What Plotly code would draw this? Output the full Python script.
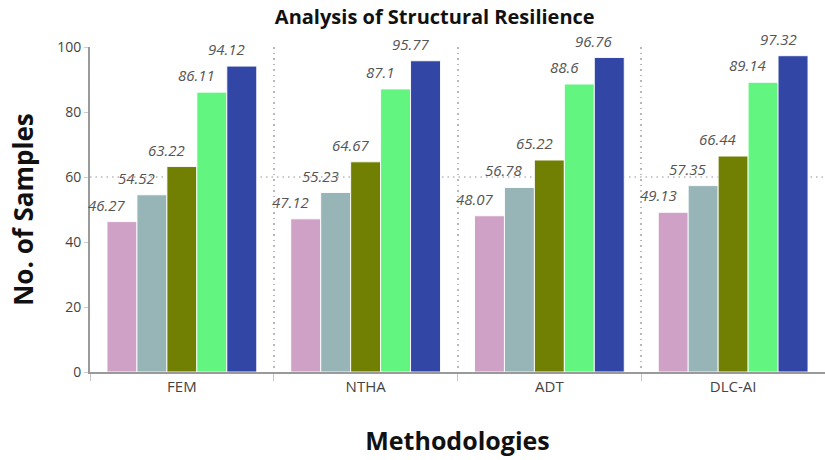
import plotly.graph_objects as go

# Methodologies compared and the five sample series per methodology
categories = ["FEM", "NTHA", "ADT", "DLC-AI"]
series_a = [46.27, 47.12, 48.07, 49.13]
series_b = [54.52, 55.23, 56.78, 57.35]
series_c = [63.22, 64.67, 65.22, 66.44]
series_d = [86.11, 87.1, 88.6, 89.14]
series_e = [94.12, 95.77, 96.76, 97.32]
series_names = ["Series A", "Series B", "Series C", "Series D", "Series E"]
colors = ["#cfa1c6", "#97b4b7", "#718002", "#62f57f", "#3246a6"]
y_ticks = [0, 20, 40, 60, 80, 100]

all_series = [series_a, series_b, series_c, series_d, series_e]

W, H = 825, 460
margin = dict(l=90, r=0, t=47, b=88)
bargap = 0.185
FONT = "Open Sans"
DOTS = "1.5px,4px"

fig = go.Figure()
for name, vals, col in zip(series_names, all_series, colors):
    fig.add_trace(go.Bar(
        x=categories, y=vals, name=name,
        marker=dict(color=col, line=dict(color="rgba(255,255,255,0.9)", width=1)),
        showlegend=False,
    ))

# Value labels: italic, centred over the left edge of each bar
plot_w = W - margin["l"] - margin["r"]
cat_w = plot_w / len(categories)
pitch = cat_w * (1 - bargap) / len(all_series)
n = len(all_series)
for i, vals in enumerate(all_series):
    shift = (i - (n - 1) / 2) * pitch - pitch / 2
    for cat, v in zip(categories, vals):
        fig.add_annotation(
            x=cat, y=v, xref="x", yref="y", text=f"{v:g}",
            showarrow=False, xshift=shift, yshift=5, yanchor="bottom",
            font=dict(family=FONT, size=15, color="#555555", style="italic"),
        )

# Dotted reference line at 60
fig.add_shape(type="line", xref="paper", yref="y", x0=0, x1=1, y0=60, y1=60,
              line=dict(color="#b8b8b8", width=1.5, dash=DOTS), layer="below")

fig.update_layout(
    width=W, height=H, margin=margin,
    paper_bgcolor="white", plot_bgcolor="white",
    barmode="group", bargap=bargap, bargroupgap=0,
    font=dict(family=FONT, color="#444444"),
    title=dict(text="<b>Analysis of Structural Resilience</b>", x=0.527, xanchor="center",
               y=0.963, yanchor="middle", font=dict(family=FONT, size=20, color="#111111")),
)
fig.update_xaxes(
    type="category", range=[-0.5, len(categories) - 0.5],
    tickson="boundaries", ticks="outside", ticklen=7,
    tickcolor="#c4c4c4", showgrid=True, gridcolor="#b8b8b8", griddash=DOTS, gridwidth=1.5,
    showline=True, linecolor="#9a9a9a", linewidth=2,
    tickfont=dict(family=FONT, size=15, color="#444444"),
    title=dict(text="<b>Methodologies</b>", standoff=37,
               font=dict(family=FONT, size=25, color="#111111")),
)
fig.update_yaxes(
    range=[0, 100], tickvals=y_ticks, showgrid=False, zeroline=False,
    ticks="outside", ticklen=4, tickcolor="#cccccc",
    showline=True, linecolor="#9a9a9a", linewidth=2,
    tickfont=dict(family=FONT, size=14, color="#444444"),
    title=dict(text="<b>No. of Samples</b>", standoff=16,
               font=dict(family=FONT, size=26, color="#111111")),
)

fig.write_html("out.html")
